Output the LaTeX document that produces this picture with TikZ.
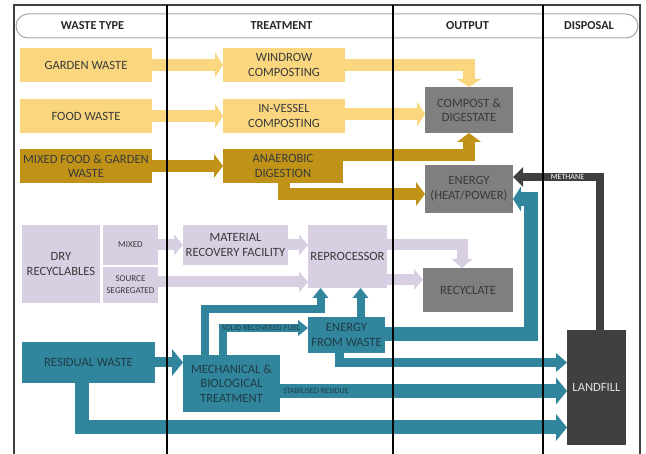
\documentclass[tikz,border=0pt]{standalone}
\usepackage{fontspec}
\setmainfont{Carlito}
\usetikzlibrary{arrows.meta,calc}

\definecolor{paleyellow}{HTML}{FAD77F}
\definecolor{goldbrown}{HTML}{C09318}
\definecolor{lavender}{HTML}{D8CFE3}
\definecolor{wteal}{HTML}{31859C}
\definecolor{outgrey}{HTML}{7F7F7F}
\definecolor{darkgrey}{HTML}{404040}
\definecolor{boxtext}{HTML}{3A3A3A}
\definecolor{tealtext}{HTML}{1E3D47}
\definecolor{pillline}{HTML}{A6A6A6}

\begin{document}
\begin{tikzpicture}[x=1pt,y=-1pt,
  box/.style={inner sep=0pt, outer sep=0pt, align=center, text=boxtext,
    font=\fontsize{12.6}{14.5}\selectfont},
  ybox/.style={box, fill=paleyellow},
  gbox/.style={box, fill=goldbrown},
  lbox/.style={box, fill=lavender},
  sbox/.style={lbox, font=\fontsize{9}{12}\selectfont},
  obox/.style={box, fill=outgrey},
  tbox/.style={box, fill=wteal, text=tealtext},
  fbox/.style={box, fill=darkgrey, text=white!88!black},
  head/.style={font=\bfseries\fontsize{12.2}{14}\selectfont, text=black!85},
  flowlabel/.style={inner sep=0pt, font=\fontsize{8}{9}\selectfont},
  flow/.style={line join=miter, line cap=butt},
  yflow/.style={flow, draw=paleyellow, line width=12pt,
    -{Triangle[width=25pt,length=8pt,line width=0pt]}},
  gflow/.style={flow, draw=goldbrown, line width=12pt,
    -{Triangle[width=24pt,length=9pt,line width=0pt]}},
  lflow/.style={flow, draw=lavender, line width=11pt,
    -{Triangle[width=21pt,length=9pt,line width=0pt]}},
  tflow/.style={flow, draw=wteal, line width=14pt,
    -{Triangle[width=27pt,length=11pt,line width=0pt]}},
  tthin/.style={flow, draw=wteal, line width=8pt,
    -{Triangle[width=16pt,length=10pt,line width=0pt]}},
  mflow/.style={flow, draw=darkgrey, line width=8pt,
    -{Triangle[width=20pt,length=10pt,line width=0pt]}},
]
\useasboundingbox (0,0) rectangle (646,454);

% column header band
\draw[pillline, line width=1pt, rounded corners=12pt] (16,14) rectangle (638,38);
\node[head] (hwaste) at (92.5,26) {WASTE TYPE};
\node[head] (htreat) at (281.5,26) {TREATMENT};
\node[head] (houtput) at (467.5,26) {OUTPUT};
\node[head] (hdisposal) at (589,26) {DISPOSAL};

% waste streams
\node[ybox, minimum width=132pt, minimum height=34pt] (garden) at (86,65) {GARDEN WASTE};
\node[ybox, minimum width=132pt, minimum height=34pt] (food) at (86,116) {FOOD WASTE};
\node[gbox, minimum width=132pt, minimum height=34pt] (mixed) at (86,166) {MIXED FOOD \& GARDEN\\WASTE};
\node[lbox, minimum width=78pt, minimum height=78pt] (dry) at (61,264) {DRY\\RECYCLABLES};
\node[sbox, minimum width=55pt, minimum height=40pt] (drymixed) at (130.5,245) {MIXED};
\node[sbox, minimum width=55pt, minimum height=36pt] (sourceseg) at (130.5,285) {SOURCE\\SEGREGATED};
\node[tbox, minimum width=133pt, minimum height=41pt] (residual) at (88.5,362.5) {RESIDUAL WASTE};

% treatments
\node[ybox, minimum width=122pt, minimum height=34pt] (windrow) at (284,65) {WINDROW\\COMPOSTING};
\node[ybox, minimum width=122pt, minimum height=34pt] (invessel) at (284,116) {IN-VESSEL\\COMPOSTING};
\node[gbox, minimum width=120pt, minimum height=34pt] (ad) at (283,166) {ANAEROBIC\\DIGESTION};
\node[lbox, minimum width=105pt, minimum height=40pt] (mrf) at (235.5,245) {MATERIAL\\RECOVERY FACILITY};
\node[lbox, minimum width=79pt, minimum height=63pt] (repro) at (347.5,256.5) {REPROCESSOR};
\node[tbox, minimum width=77pt, minimum height=36pt] (efw) at (346.5,335) {ENERGY\\FROM WASTE};
\node[tbox, minimum width=97pt, minimum height=57pt] (mbt) at (231.5,383.5) {MECHANICAL \&\\BIOLOGICAL\\TREATMENT};

% outputs and disposal
\node[obox, minimum width=88pt, minimum height=46pt] (compost) at (469,110) {COMPOST \&\\DIGESTATE};
\node[obox, minimum width=88pt, minimum height=48pt] (energy) at (469,189) {ENERGY\\(HEAT/POWER)};
\node[obox, minimum width=90pt, minimum height=44pt] (recyclate) at (468,290) {RECYCLATE};
\node[fbox, minimum width=59pt, minimum height=115pt] (landfill) at (596.5,387.5) {LANDFILL};

% organic flows
\draw[yflow] (garden.east) -- (windrow.west);
\draw[yflow] (food.east) -- (invessel.west);
\draw[gflow] (mixed.east) -- (ad.west);
\draw[yflow] (windrow.east) -| (compost.north);
\draw[yflow] ([yshift=2pt]invessel.east) -- ([yshift=2pt]invessel.east -| compost.west);
\draw[gflow] ([yshift=11pt]ad.east) -| (compost.south);
\draw[gflow] ([xshift=1pt]ad.south) |- ([yshift=-5pt]energy.west);

% dry recyclables
\draw[lflow] (drymixed.east) -- (mrf.west);
\draw[lflow] (mrf.east) -- (mrf.east -| repro.west);
\draw[lflow] ([yshift=3pt]sourceseg.east) -- ([yshift=3pt]sourceseg.east -| repro.west);
\draw[lflow] ([yshift=11.5pt]repro.east) -| ([xshift=-6pt]recyclate.north);
\draw[lflow] ([yshift=-23pt]repro.east) -- ([yshift=-23pt]repro.east -| recyclate.west);

% residual waste
\draw[tflow, line width=10pt] (residual.east) -- (residual.east -| mbt.west);
\draw[tthin] ([xshift=-27pt]mbt.north) |- ($(repro.south)+(-27,21)$) -- ([xshift=-27pt]repro.south);
\draw[tthin] ([xshift=-9pt]mbt.north) |- ([yshift=7pt]efw.west);
\draw[tthin] ([xshift=14pt]efw.north) -- ([xshift=14pt]efw.north |- repro.south);
\draw[tflow, -{Triangle[width=25pt,length=8pt,line width=0pt]}]
  ([yshift=1pt]efw.east) -| ($(energy.east)+(18,10)$) -- ([yshift=-10pt]energy.east);
\draw[tflow, line width=9pt, -{Triangle[width=19pt,length=11pt,line width=0pt]}]
  ([xshift=-7pt]efw.south) |- ([yshift=25pt]landfill.west);
\draw[tflow] ([yshift=-7.5pt]mbt.east) -- ([yshift=-7.5pt]mbt.east -| landfill.west);
\draw[tflow] ([xshift=-7pt]residual.south) |- ([yshift=-40pt]landfill.west);
\draw[mflow] ([xshift=3pt]landfill.north) |- ([yshift=12pt]energy.east);

% flow labels
\node[flowlabel, text=tealtext] (srf) at (261,328) {SOLID RECOVERED FUEL};
\node[flowlabel, text=tealtext] (stab) at (316,391) {STABILISED RESIDUE};
\node[flowlabel, text=white] (methane) at (567.5,176.5) {METHANE};

% outer frame and column rules
\draw[darkgrey, line width=1.5pt] (14,454) -- (14,5) -- (640,5) -- (640,454);
\draw[black, line width=2pt] (167,5) -- (167,454);
\draw[black, line width=2pt] (393,5) -- (393,454);
\draw[black, line width=2pt] (543,5) -- (543,454);
\end{tikzpicture}
\end{document}
